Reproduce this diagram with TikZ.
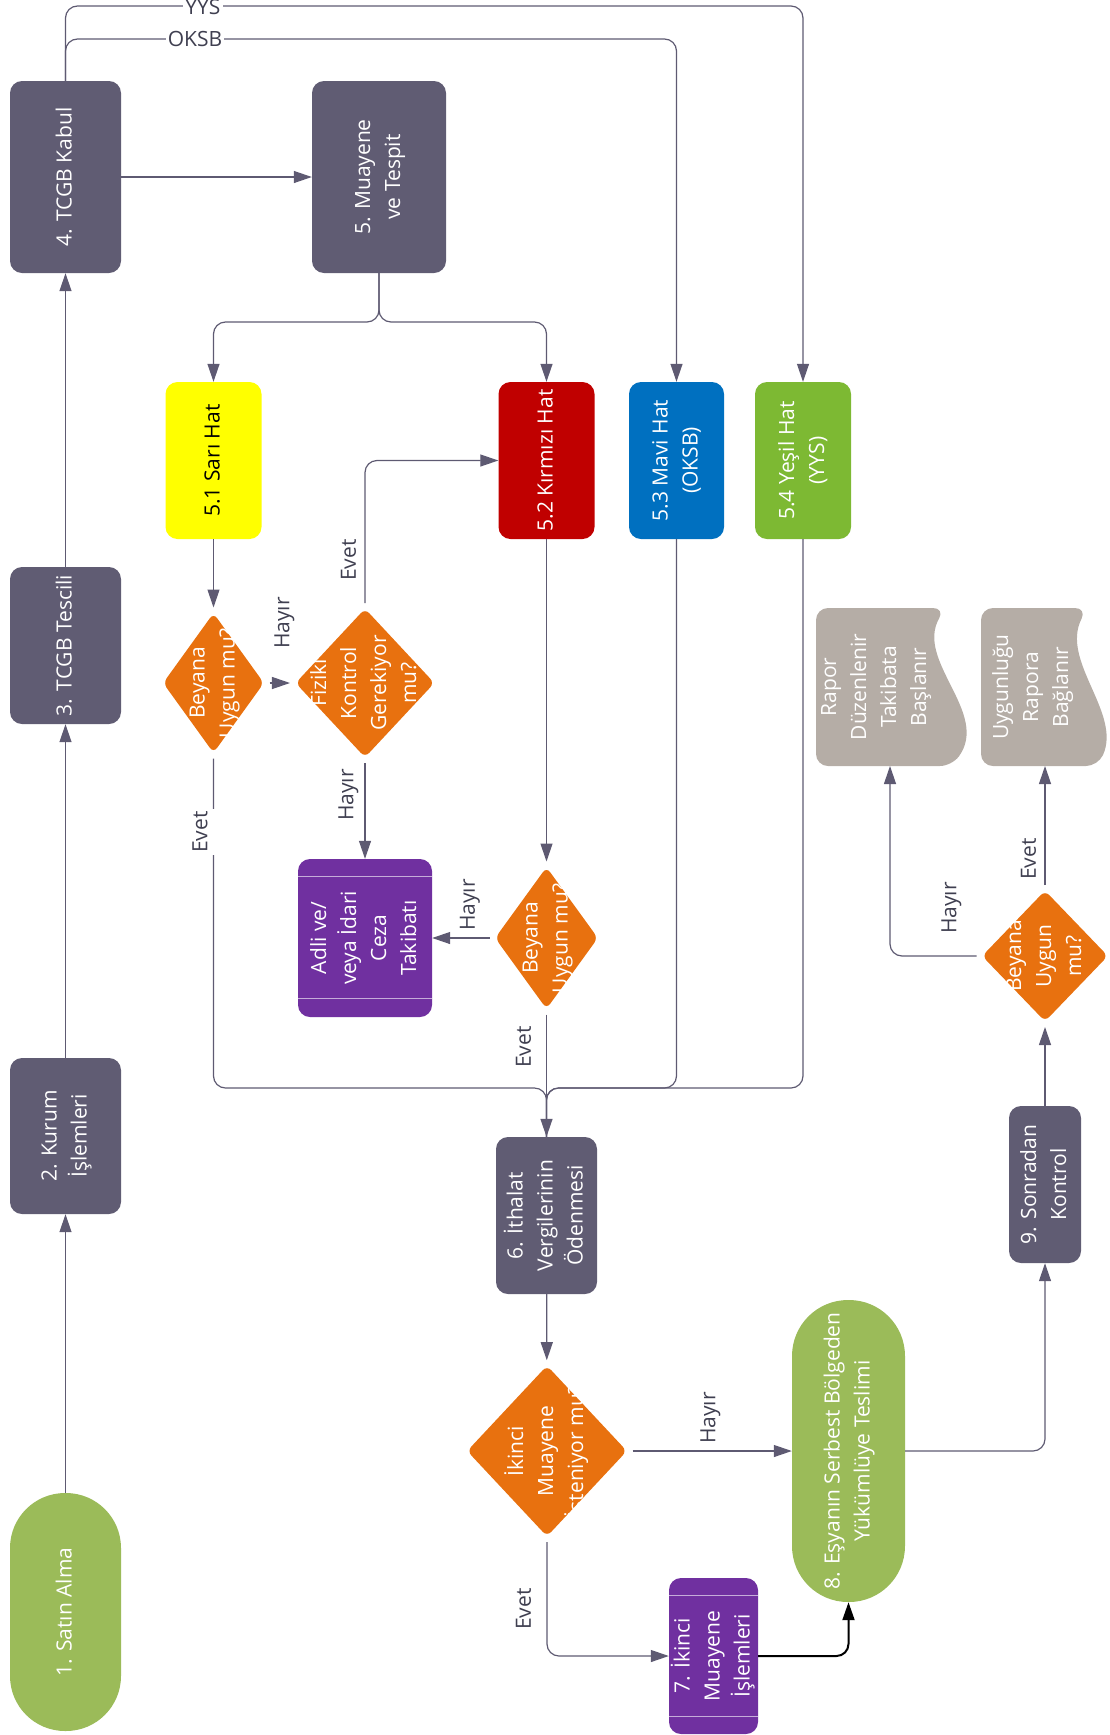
\documentclass[tikz,border=0pt]{standalone}
\usepackage{fontspec}
\setmainfont{Open Sans}
\usepackage{graphicx}
\usepackage{tikz}
\usetikzlibrary{positioning}
\usepgflibrary{arrows.meta,shapes.geometric}

\definecolor{slate}{HTML}{605C73}
\definecolor{lineclr}{HTML}{5E5A72}
\definecolor{lblclr}{HTML}{3F3F50}
\definecolor{orng}{HTML}{E8710F}
\definecolor{sari}{HTML}{FFFF00}
\definecolor{kirmizi}{HTML}{C00000}
\definecolor{mavi}{HTML}{0070C0}
\definecolor{yesil}{HTML}{7DB933}
\definecolor{capgr}{HTML}{9BBB59}
\definecolor{mor}{HTML}{7030A0}
\definecolor{docgr}{HTML}{B5ADA6}

\newcommand{\vtxt}[1]{\makebox[0pt]{\raisebox{-.5\height}[0pt][0pt]{\rotatebox{90}{\begin{tabular}{@{}c@{}}#1\end{tabular}}}}}
\newcommand{\vlbl}[1]{\rotatebox{90}{#1}}

\begin{document}
\begin{tikzpicture}[x=1pt, y=-1pt,
    every node/.style={font=\fontsize{21}{30}\selectfont, inner sep=0pt},
    box/.style={rectangle, rounded corners=12pt, fill=slate, text=white},
    dec/.style={diamond, rounded corners=6pt, fill=orng, text=white, outer sep=4pt},
    termbox/.style={rectangle, rounded corners=55pt, fill=capgr, text=white},
    proc/.style={rectangle, rounded corners=12pt, fill=mor, text=white},
    ln/.style={draw=lineclr, line width=1.2pt, rounded corners=12pt},
    arr/.style={ln, -{Triangle[length=18pt,width=12pt]}},
    lbl/.style={fill=white, inner sep=2pt, text=lblclr}]
  \useasboundingbox (0,0) rectangle (1109,1735);

  % documents
  \fill[docgr, rounded corners=12pt] (816,608) -- (945,608) .. controls (915,661) and (990,713) .. (952,766) -- (816,766) -- cycle;
  \fill[docgr, rounded corners=12pt] (981,608) -- (1087,608) .. controls (1060,661) and (1122,713) .. (1098,766) -- (981,766) -- cycle;
  \node[text=white] (rpr) at (875,687) {\vtxt{Rapor\\Düzenlenir\\Takibata\\Başlanır}};
  \node[text=white] (uyg) at (1032,687) {\vtxt{Uygunluğu\\Rapora\\Bağlanır}};
  \coordinate (rprin) at (890,766);
  \coordinate (uygin) at (1045,766);

  % left column
  \node[termbox, minimum width=111pt, minimum height=238pt] (n1) at (65.5,1612) {\vtxt{1. Satın Alma}};
  \node[box, minimum width=111pt, minimum height=156pt] (n2) at (65.5,1136) {\vtxt{2. Kurum\\İşlemleri}};
  \node[box, minimum width=111pt, minimum height=157pt] (n3) at (65.5,645.5) {\vtxt{3. TCGB Tescili}};
  \node[box, minimum width=111pt, minimum height=192pt] (n4) at (65.5,177) {\vtxt{4. TCGB Kabul}};
  \node[box, minimum width=134pt, minimum height=192pt] (n5) at (379,177) {\vtxt{5. Muayene\\ve Tespit}};

  % hatlar
  \node[box, fill=sari, text=black, minimum width=96pt, minimum height=157pt] (h51) at (213.5,460.5) {\vtxt{5.1 Sarı Hat}};
  \node[box, fill=kirmizi, minimum width=96pt, minimum height=157pt] (h52) at (546.5,460.5) {\vtxt{5.2 Kırmızı Hat}};
  \node[box, fill=mavi, minimum width=95pt, minimum height=157pt] (h53) at (676.5,460.5) {\vtxt{5.3 Mavi Hat\\(OKSB)}};
  \node[box, fill=yesil, minimum width=96pt, minimum height=157pt] (h54) at (803,460.5) {\vtxt{5.4 Yeşil Hat\\(YYS)}};

  % decisions
  \node[dec, minimum width=104pt, minimum height=143pt] (q1) at (213.5,683) {\vtxt{Beyana\\Uygun mu?}};
  \node[dec, minimum width=142pt, minimum height=152pt] (q2) at (365,683) {\vtxt{Fiziki\\Kontrol\\Gerekiyor\\mu?}};
  \node[dec, minimum width=106pt, minimum height=145pt] (q3) at (546.5,938) {\vtxt{Beyana\\Uygun mu?}};
  \node[dec, minimum width=163pt, minimum height=174pt] (q4) at (547,1451) {\vtxt{İkinci\\Muayene\\İsteniyor mu?}};
  \node[dec, minimum width=129pt, minimum height=134pt] (q5) at (1045,956) {\vtxt{Beyana\\Uygun\\mu?}};

  \node[proc, minimum width=134pt, minimum height=158pt] (adli) at (365,938) {\vtxt{Adli ve/\\veya İdari\\Ceza\\Takibatı}};
  \draw[mor!40!white, line width=1pt] ([yshift=-18pt]adli.north west) -- ([yshift=-18pt]adli.north east);
  \draw[mor!40!white, line width=1pt] ([yshift=19pt]adli.south west) -- ([yshift=19pt]adli.south east);
  \node[box, minimum width=101pt, minimum height=157pt] (n6) at (546.5,1215.5) {\vtxt{6. İthalat\\Vergilerinin\\Ödenmesi}};
  \node[proc, minimum width=89pt, minimum height=156pt] (n7) at (713.5,1656) {\vtxt{7. İkinci\\Muayene\\İşlemleri}};
  \draw[mor!40!white, line width=1pt] ([yshift=-18pt]n7.north west) -- ([yshift=-18pt]n7.north east);
  \draw[mor!40!white, line width=1pt] ([yshift=18pt]n7.south west) -- ([yshift=18pt]n7.south east);
  \node[termbox, rounded corners=56pt, minimum width=113pt, minimum height=302pt] (n8) at (848.5,1451) {\vtxt{8. Eşyanın Serbest Bölgeden\\Yükümlüye Teslimi}};
  \node[box, minimum width=72pt, minimum height=157pt] (n9) at (1045,1184.5) {\vtxt{9. Sonradan\\Kontrol}};

  \coordinate (oksb) at (65.5,39);
  \coordinate (yys) at (65.5,6);
  \coordinate (br) at (379,322);
  \coordinate (mrg) at (546.5,1088);

  % connectors
  \draw[arr] (n1) -- (n2);
  \draw[arr] (n2) -- (n3);
  \draw[arr] (n3) -- (n4);
  \draw[arr] (n4) -- (n5);
  \draw[arr] (n4.north) -- (yys) -| (h54.north);
  \draw[arr] (n4.north) -- (oksb) -| (h53.north);
  \draw[arr] (n5.south) -- (br) -| (h51.north);
  \draw[arr] (n5.south) -- (br) -| (h52.north);
  \draw[arr] (h51) -- (q1);
  \draw[arr] (q1) -- (q2);
  \draw[arr] (q2.north) |- (h52.west);
  \draw[arr] (q2) -- (adli);
  \draw[arr] (h52) -- (q3);
  \draw[arr] (q3) -- (adli);
  \draw[ln] (q1.south) |- (mrg) -- (n6.north);
  \draw[ln] (h53.south) |- (mrg) -- (n6.north);
  \draw[ln] (h54.south) |- (mrg) -- (n6.north);
  \draw[arr] (q3) -- (n6);
  \draw[arr] (n6) -- (q4);
  \draw[arr] (q4) -- (n8);
  \draw[arr] (q4.south) |- (n7.west);
  \draw[arr, draw=black, line width=2pt] (n7.east) -| (n8.south);
  \draw[arr] (n8.east) -| (n9.south);
  \draw[arr] (n9) -- (q5);
  \draw[arr] (q5.north) -- (uygin);
  \draw[arr] (q5.west) -| (rprin);

  % labels
  \node[lbl] (lyys) at (203,7) {YYS};
  \node[lbl] (loksb) at (195,39) {OKSB};
  \node[lbl] (l1) at (284.5,623) {\vlbl{Hayır}};
  \node[lbl] (l2) at (348.5,560) {\vlbl{Evet}};
  \node[lbl] (l3) at (348.5,795) {\vlbl{Hayır}};
  \node[lbl, inner xsep=8pt] (l4) at (200,832) {\vlbl{Evet}};
  \node[lbl] (l5) at (470,905) {\vlbl{Hayır}};
  \node[lbl] (l6) at (523.5,1047) {\vlbl{Evet}};
  \node[lbl] (l7) at (710.5,1418) {\vlbl{Hayır}};
  \node[lbl] (l8) at (523.5,1609) {\vlbl{Evet}};
  \node[lbl] (l9) at (1028.5,859) {\vlbl{Evet}};
  \node[lbl] (l10) at (951.5,908) {\vlbl{Hayır}};
\end{tikzpicture}
\end{document}
